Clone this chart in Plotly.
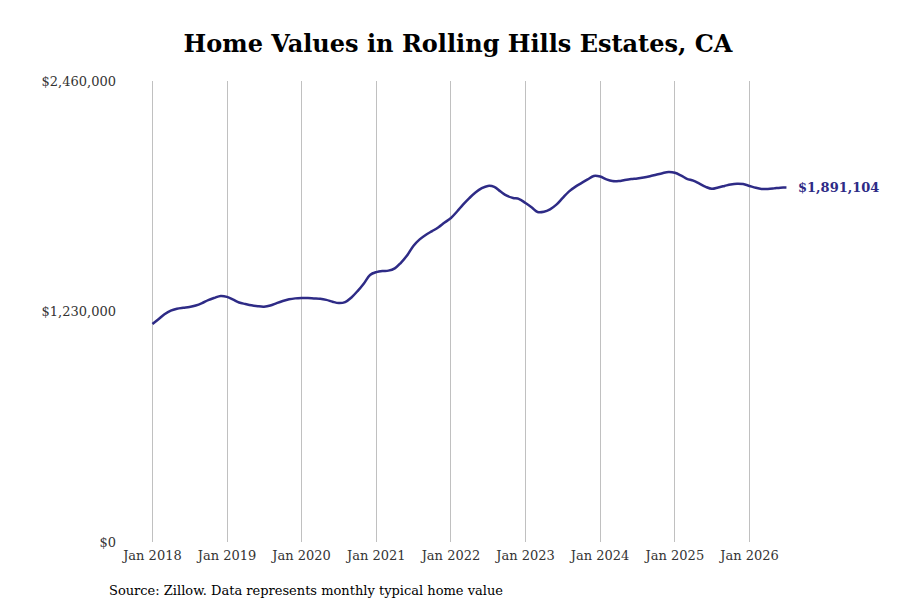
import pandas as pd
import plotly.graph_objects as go

# monthly typical home value, thousands of dollars, Jan 2018 - Jul 2026
values_k = [
    1163, 1190, 1215, 1235, 1245, 1250, 1254, 1262, 1275, 1291, 1303, 1313,
    1308, 1293, 1278, 1270, 1263, 1258, 1256, 1262, 1275, 1286, 1295, 1300,
    1302, 1302, 1300, 1298, 1292, 1282, 1275, 1280, 1305, 1339, 1380, 1425,
    1440, 1446, 1448, 1460, 1490, 1530, 1580, 1615, 1640, 1659, 1680, 1705,
    1729, 1765, 1800, 1835, 1865, 1888, 1900, 1895, 1870, 1848, 1836, 1830,
    1809, 1785, 1761, 1762, 1775, 1800, 1835, 1870, 1895, 1915, 1935, 1953,
    1950, 1935, 1926, 1926, 1932, 1937, 1940, 1945, 1952, 1960, 1968, 1974,
    1970, 1955, 1938, 1928, 1912, 1895, 1885, 1892, 1900, 1908, 1912, 1910,
    1900, 1890, 1884, 1884, 1887, 1891, 1891.104,
]
dates = pd.date_range("2018-01-01", periods=len(values_k), freq="MS")
values = [v * 1000 for v in values_k]

tick_dates = pd.date_range("2018-01-01", "2026-01-01", freq="YS")
tick_labels = [f"Jan {d.year}" for d in tick_dates]
y_ticks = [0, 1230000, 2460000]
y_labels = ["$0", "$1,230,000", "$2,460,000"]

line_color = "#2e2b86"
font = "DejaVu Serif"

fig = go.Figure(go.Scatter(x=dates, y=values, mode="lines",
                           line=dict(color=line_color, width=2.5, shape="spline"),
                           hoverinfo="x+y"))

fig.add_annotation(x=dates[-1], y=values[-1], text=f"<b>${values[-1]:,.0f}</b>",
                   xanchor="left", xshift=10, showarrow=False,
                   font=dict(color=line_color, size=13, family=font))
fig.add_annotation(x=0, y=0, xref="paper", yref="paper", yshift=-39, xshift=-16,
                   text="Source: Zillow. Data represents monthly typical home value",
                   showarrow=False, xanchor="left", yanchor="top",
                   font=dict(size=13, color="black", family=font))

fig.update_layout(
    width=900, height=600,
    title=dict(text="<b>Home Values in Rolling Hills Estates, CA</b>", x=0.5, y=0.955,
               xanchor="center", font=dict(size=24, color="black", family=font)),
    font=dict(family=font, size=13, color="#333"),
    plot_bgcolor="white", paper_bgcolor="white",
    margin=dict(l=115, r=20, t=73, b=66, autoexpand=False),
    showlegend=False,
    xaxis=dict(range=["2017-08-10", "2027-11-10"], tickvals=tick_dates, ticktext=tick_labels,
               showgrid=True, gridcolor="#c0c0c0", gridwidth=1, zeroline=False,
               showline=False, ticks="", automargin=False, ticklabelstandoff=4),
    yaxis=dict(range=[0, 2460000], tickvals=y_ticks, ticktext=y_labels,
               showgrid=False, zeroline=False, showline=False, ticks="",
               automargin=False, ticklabelstandoff=6),
)

fig.write_html("out.html")
